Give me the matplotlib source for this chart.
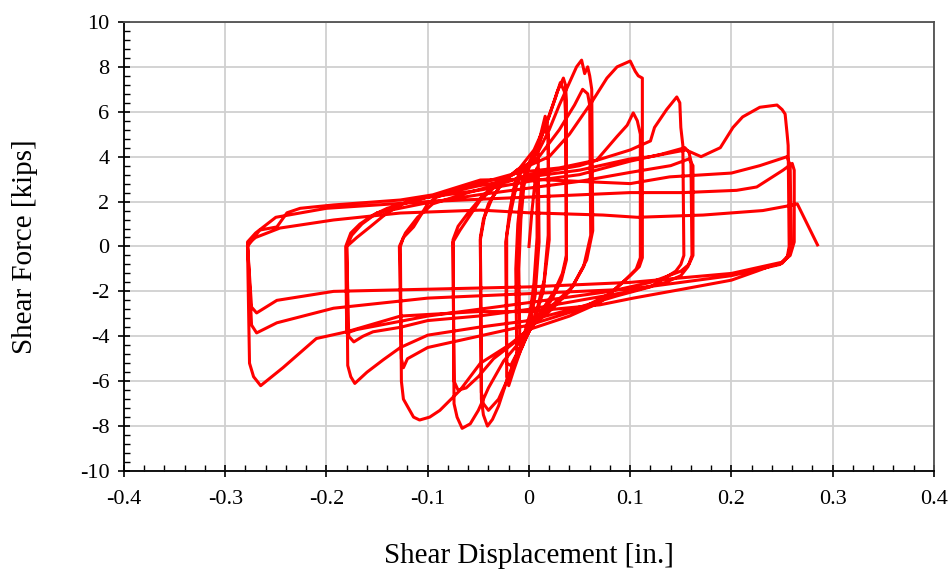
import matplotlib
matplotlib.use("Agg")
import matplotlib.pyplot as plt
import numpy as np
from matplotlib.ticker import MultipleLocator

# load history, (displacement [in.], force [kips]), in test order
loop_small = [(0.0, 0.0), (0.003, 1.6), (0.006, 2.9), (0.008, 3.5), (0.008, 0.4), (0.005, -1.6),
              (0.001, -3.0), (-0.004, -3.8), (-0.009, -4.3), (-0.010, -1.0), (-0.008, 1.2),
              (-0.005, 2.7), (-0.001, 3.4), (0.005, 4.0), (0.009, 4.4), (0.010, 0.2),
              (0.006, -2.2), (0.001, -3.5), (-0.006, -4.4), (-0.012, -5.0), (-0.013, -1.0),
              (-0.011, 1.0), (-0.007, 2.8), (-0.002, 3.5)]

loop_002 = [(0.004, 4.0), (0.010, 4.7), (0.016, 5.8), (0.018, 5.5), (0.019, 4.8), (0.019, 0.5),
            (0.015, -1.5), (0.008, -2.8), (0.001, -3.7), (-0.008, -4.6), (-0.015, -5.5),
            (-0.020, -6.2), (-0.022, -5.8), (-0.022, 0.5), (-0.019, 1.6), (-0.014, 2.8),
            (-0.008, 3.4), (0.000, 3.7), (0.008, 4.4), (0.015, 5.2), (0.019, 5.0), (0.020, 0.3),
            (0.014, -2.0), (0.006, -3.2), (0.000, -3.8), (-0.010, -4.6), (-0.018, -5.3),
            (-0.022, -5.2), (-0.023, 0.2), (-0.019, 1.3), (-0.013, 2.6), (-0.008, 3.3)]

loop_004 = [(0.000, 3.7), (0.010, 4.6), (0.020, 5.8), (0.028, 6.9), (0.034, 7.5), (0.036, 7.2),
            (0.037, 6.5), (0.037, -0.4), (0.033, -1.2), (0.025, -2.0), (0.012, -2.9),
            (0.000, -3.7), (-0.012, -4.8), (-0.022, -6.0), (-0.030, -7.1), (-0.036, -7.7),
            (-0.041, -8.0), (-0.045, -7.5), (-0.047, -6.8), (-0.048, 0.4), (-0.045, 1.2),
            (-0.040, 1.9), (-0.030, 2.6), (-0.020, 3.1), (-0.009, 3.5), (0.005, 4.3),
            (0.018, 5.6), (0.026, 6.6), (0.031, 7.3), (0.035, 6.9), (0.036, 6.0), (0.037, -0.6),
            (0.032, -1.5), (0.022, -2.4), (0.010, -3.1), (0.001, -3.7), (-0.010, -4.7),
            (-0.020, -5.8), (-0.030, -6.8), (-0.040, -7.3), (-0.045, -7.0), (-0.047, -6.5),
            (-0.048, 0.3), (-0.044, 1.3), (-0.036, 2.2), (-0.025, 2.9), (-0.012, 3.4)]

loop_006 = [(0.000, 3.7), (0.010, 4.3), (0.020, 5.2), (0.030, 6.3), (0.040, 7.3), (0.047, 8.0),
            (0.052, 8.3), (0.055, 7.7), (0.058, 8.0), (0.060, 7.6), (0.062, 7.0), (0.063, 0.7),
            (0.057, -0.6), (0.043, -1.8), (0.021, -2.7), (0.011, -3.1), (0.001, -3.7),
            (-0.010, -4.3), (-0.025, -5.1), (-0.040, -6.3), (-0.050, -7.3), (-0.058, -7.9),
            (-0.066, -8.1), (-0.071, -7.6), (-0.074, -7.0), (-0.075, 0.2), (-0.068, 0.73),
            (-0.055, 1.6), (-0.048, 2.07), (-0.035, 2.6), (-0.020, 3.1), (-0.008, 3.4),
            (0.010, 4.0), (0.030, 5.2), (0.045, 6.3), (0.053, 7.0), (0.058, 6.8), (0.060, 6.3),
            (0.061, 0.5), (0.054, -0.9), (0.040, -2.0), (0.020, -2.9), (0.001, -3.6),
            (-0.015, -4.3), (-0.035, -5.0), (-0.050, -5.8), (-0.062, -6.3), (-0.070, -6.4),
            (-0.074, -6.0), (-0.075, 0.3), (-0.070, 0.9), (-0.060, 1.5), (-0.045, 2.3),
            (-0.025, 3.0), (-0.008, 3.4)]

loop_011 = [(0.000, 3.6), (0.020, 4.0), (0.040, 5.0), (0.063, 6.5), (0.077, 7.5), (0.087, 8.0),
            (0.100, 8.26), (0.105, 7.8), (0.108, 7.6), (0.112, 7.5), (0.112, -0.5),
            (0.109, -0.9), (0.100, -1.3), (0.090, -1.7), (0.070, -2.5), (0.040, -3.1),
            (0.000, -3.7), (-0.020, -4.4), (-0.048, -5.2), (-0.068, -6.4), (-0.088, -7.3),
            (-0.098, -7.6), (-0.108, -7.73), (-0.114, -7.6), (-0.124, -6.8), (-0.126, -6.0),
            (-0.127, 0.0), (-0.124, 0.4), (-0.114, 0.87), (-0.100, 1.9), (-0.091, 2.2),
            (-0.050, 2.8), (-0.010, 3.3), (0.030, 3.5), (0.067, 3.85), (0.087, 4.9),
            (0.097, 5.4), (0.103, 5.95), (0.107, 5.6), (0.110, 5.0), (0.110, -0.5),
            (0.106, -1.0), (0.095, -1.5), (0.080, -2.1), (0.050, -2.8), (0.000, -3.5),
            (-0.050, -4.0), (-0.100, -4.5), (-0.120, -5.0), (-0.124, -5.4), (-0.126, -5.0),
            (-0.128, 0.0), (-0.122, 0.6), (-0.110, 1.3), (-0.095, 1.9), (-0.060, 2.4),
            (-0.020, 2.9), (0.000, 3.2)]

loop_016 = [(0.050, 3.6), (0.100, 4.3), (0.120, 4.7), (0.124, 5.3), (0.136, 6.1), (0.146, 6.66),
            (0.149, 6.4), (0.150, 5.3), (0.152, 4.5), (0.153, -0.4), (0.150, -0.8),
            (0.145, -1.1), (0.136, -1.35), (0.120, -1.8), (0.087, -2.2), (0.050, -2.7),
            (0.000, -3.3), (-0.050, -3.6), (-0.100, -3.95), (-0.127, -4.5), (-0.144, -5.05),
            (-0.160, -5.6), (-0.172, -6.1), (-0.176, -5.8), (-0.179, -5.3), (-0.180, 0.0),
            (-0.170, 0.4), (-0.157, 0.87), (-0.140, 1.5), (-0.118, 2.07), (-0.050, 2.5),
            (0.000, 2.9), (0.050, 3.2), (0.100, 3.8), (0.130, 4.1), (0.154, 4.4), (0.158, 4.2),
            (0.160, 3.8), (0.161, -0.4), (0.157, -0.9), (0.150, -1.3), (0.135, -1.6),
            (0.100, -2.0), (0.050, -2.4), (0.000, -2.8), (-0.050, -3.1), (-0.100, -3.3),
            (-0.127, -3.6), (-0.154, -3.8), (-0.164, -4.0), (-0.173, -4.25), (-0.178, -4.0),
            (-0.180, 0.0), (-0.175, 0.5), (-0.165, 1.0), (-0.150, 1.5), (-0.100, 1.95),
            (-0.050, 2.3), (0.000, 2.6), (0.050, 2.9), (0.100, 3.3), (0.140, 3.6), (0.158, 3.9),
            (0.162, 3.6), (0.162, -0.4), (0.158, -0.8), (0.150, -1.1), (0.120, -1.6),
            (0.080, -2.0), (0.000, -2.5), (-0.050, -2.8), (-0.100, -3.1), (-0.147, -3.5),
            (-0.170, -3.7), (-0.180, -3.85), (-0.181, 0.0), (-0.176, 0.6), (-0.167, 1.0),
            (-0.154, 1.4), (-0.140, 1.7), (-0.100, 2.2)]

loop_026a = [(-0.050, 2.7), (0.000, 3.1), (0.050, 3.4), (0.100, 3.9), (0.120, 4.0), (0.155, 4.3),
             (0.170, 4.0), (0.189, 4.4), (0.2015, 5.3), (0.211, 5.77), (0.228, 6.2),
             (0.245, 6.3), (0.250, 6.1), (0.253, 5.9), (0.255, 5.0), (0.256, 4.5), (0.257, 0.0),
             (0.255, -0.5), (0.250, -0.75), (0.240, -0.85), (0.225, -1.1), (0.200, -1.5),
             (0.152, -1.9), (0.103, -2.3), (0.070, -2.6), (0.000, -2.9), (-0.050, -2.9),
             (-0.127, -3.1), (-0.180, -3.8), (-0.210, -4.1), (-0.243, -5.4), (-0.265, -6.2),
             (-0.272, -5.8), (-0.276, -5.2), (-0.278, 0.0), (-0.266, 0.73), (-0.249, 0.87),
             (-0.239, 1.5), (-0.226, 1.7), (-0.193, 1.85), (-0.127, 2.07), (-0.095, 2.3),
             (-0.048, 2.96)]

loop_026b = [(0.000, 3.0), (0.050, 2.9), (0.100, 2.8), (0.139, 3.1), (0.200, 3.27), (0.228, 3.6),
             (0.255, 4.0), (0.258, 3.6), (0.259, 0.2), (0.256, -0.4), (0.248, -0.8),
             (0.200, -1.3), (0.100, -1.9), (0.000, -2.1), (-0.100, -2.3), (-0.193, -2.75),
             (-0.249, -3.4), (-0.269, -3.85), (-0.274, -3.5), (-0.278, 0.2), (-0.270, 0.6),
             (-0.250, 1.3), (-0.200, 1.7), (-0.100, 2.0), (0.000, 2.2), (0.100, 2.4),
             (0.152, 2.4), (0.205, 2.5), (0.225, 2.65), (0.251, 3.4), (0.260, 3.7), (0.262, 3.4)]

loop_026c = [(0.262, 0.2), (0.258, -0.4), (0.250, -0.7), (0.200, -1.2), (0.100, -1.6),
             (0.000, -1.8), (-0.048, -1.85), (-0.193, -2.0), (-0.249, -2.4), (-0.269, -2.96),
             (-0.274, -2.7), (-0.278, 0.1), (-0.270, 0.4), (-0.246, 0.82), (-0.193, 1.18),
             (-0.127, 1.49), (-0.048, 1.62), (0.000, 1.5), (0.073, 1.4), (0.107, 1.3),
             (0.172, 1.4), (0.231, 1.6), (0.261, 1.85), (0.265, 1.9), (0.285, 0.07)]

loops = [loop_small, loop_002, loop_004, loop_006, loop_011, loop_016,
         loop_026a, loop_026b, loop_026c]
history = np.array([p for lp in loops for p in lp])
disp = history[:, 0]
force = history[:, 1]

plt.rcParams["font.family"] = ["Liberation Serif", "DejaVu Serif"]

fig = plt.figure(figsize=(9.5, 5.72), dpi=100)
ax = fig.add_axes([0.1305, 0.1766, 0.8526, 0.785])

ax.plot(disp, force, color="#ff0000", linewidth=2.2, solid_joinstyle="round", zorder=3)

ax.set_xlim(-0.4, 0.4)
ax.set_ylim(-10, 10)
ax.xaxis.set_major_locator(MultipleLocator(0.1))
ax.xaxis.set_minor_locator(MultipleLocator(0.02))
ax.yaxis.set_major_locator(MultipleLocator(2))
ax.yaxis.set_minor_locator(MultipleLocator(0.4))
ax.xaxis.set_major_formatter(plt.FuncFormatter(lambda v, p: "0" if abs(v) < 1e-9 else f"{v:.1f}"))
ax.yaxis.set_major_formatter(plt.FuncFormatter(lambda v, p: f"{v:.0f}"))

ax.grid(True, which="major", color="#d0d0d0", linewidth=1.3, zorder=0)
ax.set_axisbelow(True)

ax.tick_params(which="major", direction="inout", length=9, width=1.2, labelsize=16,
               color="black", labelcolor="black")
ax.tick_params(axis="y", which="major", pad=6)
ax.tick_params(axis="x", which="major", pad=9)
ax.tick_params(which="minor", direction="in", length=4, width=1.0)

for side in ["left", "bottom"]:
    ax.spines[side].set_color("black")
    ax.spines[side].set_linewidth(1.3)
for side in ["top", "right"]:
    ax.spines[side].set_color("#505050")
    ax.spines[side].set_linewidth(1.3)

ax.set_xlabel("Shear Displacement [in.]", fontsize=21)
ax.set_ylabel("Shear Force [kips]", fontsize=21)
ax.xaxis.set_label_coords(0.5, -0.16)
ax.yaxis.set_label_coords(-0.106, 0.5)

fig.savefig("out.png", dpi=100)
plt.close(fig)
